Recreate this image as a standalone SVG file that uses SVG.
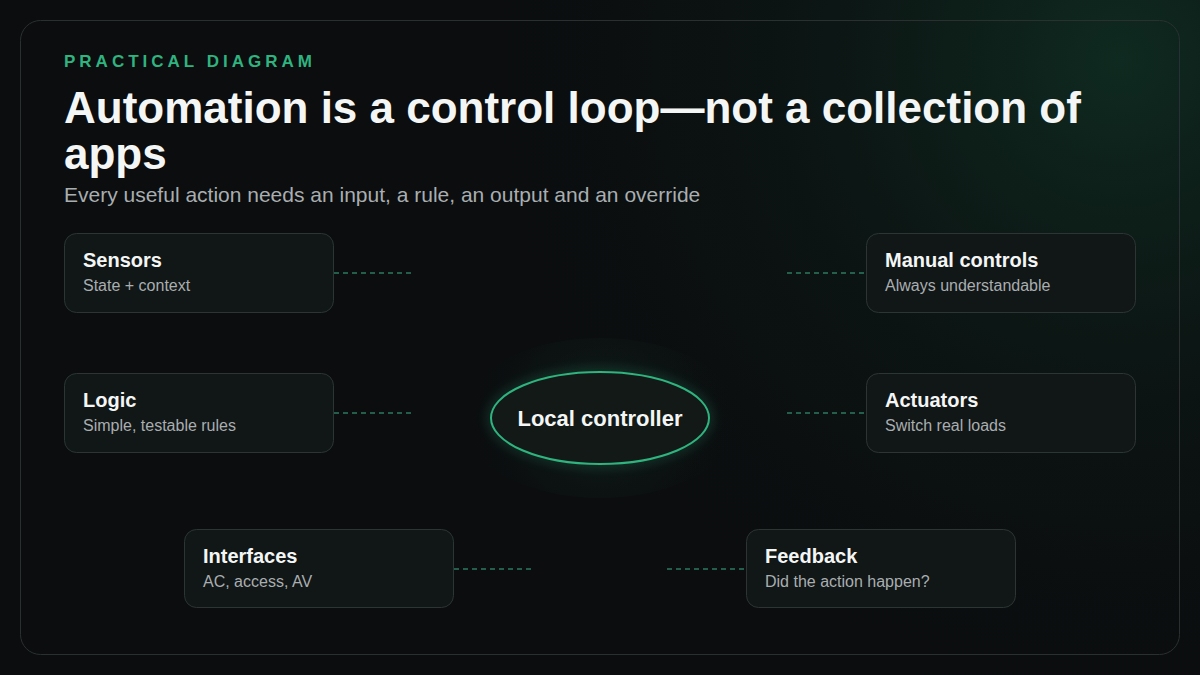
<svg xmlns="http://www.w3.org/2000/svg" width="1200" height="675" viewBox="0 0 1200 675">
<defs>
<radialGradient id="bgGlow" cx="1120" cy="60" r="700" gradientUnits="userSpaceOnUse">
<stop offset="0" stop-color="#0f2a20" stop-opacity="1"/>
<stop offset="0.5" stop-color="#0c1815" stop-opacity="0.6"/>
<stop offset="1" stop-color="#0b0d0f" stop-opacity="0"/>
</radialGradient>
<radialGradient id="ctrGlow" cx="600" cy="418" r="140" gradientUnits="userSpaceOnUse">
<stop offset="0" stop-color="#163a2c" stop-opacity="0.4"/>
<stop offset="0.6" stop-color="#10211b" stop-opacity="0.2"/>
<stop offset="1" stop-color="#0b0d0f" stop-opacity="0"/>
</radialGradient>
<filter id="glow" x="-50%" y="-50%" width="200%" height="200%">
<feGaussianBlur stdDeviation="6"/>
</filter>
<style>
.node rect{fill:#111617;stroke:#2c3534;stroke-width:1}
.nt{font-family:"Liberation Sans",Arial,sans-serif;font-weight:700;font-size:20px;fill:#f4f6f5}
.ns{font-family:"Liberation Sans",Arial,sans-serif;font-size:16px;fill:#a9aeb0}
.conn line{stroke:#2c7a5f;stroke-width:1.5;stroke-dasharray:5 4}
</style>
</defs>
<rect width="1200" height="675" fill="#0b0d0f"/>
<rect width="1200" height="675" fill="url(#bgGlow)"/>
<rect x="20.5" y="20.5" width="1159" height="634" rx="20" fill="none" stroke="#2a3030" stroke-width="1"/>
<text x="64" y="67" font-family="Liberation Sans,Arial,sans-serif" font-weight="700" font-size="17" letter-spacing="4" fill="#2fb37f">PRACTICAL DIAGRAM</text>
<text font-family="Liberation Sans,Arial,sans-serif" font-weight="700" font-size="44" fill="#f4f6f5"><tspan x="64" y="123">Automation is a control loop—not a collection of</tspan><tspan x="64" y="169">apps</tspan></text>
<text x="64" y="202" font-family="Liberation Sans,Arial,sans-serif" font-size="21" fill="#a9aeb0">Every useful action needs an input, a rule, an output and an override</text>
<g class="conn" id="connectors">
<line x1="334" y1="273" x2="413" y2="273"/>
<line x1="787" y1="273" x2="866" y2="273"/>
<line x1="334" y1="413" x2="413" y2="413"/>
<line x1="787" y1="413" x2="866" y2="413"/>
<line x1="454" y1="569" x2="533" y2="569"/>
<line x1="667" y1="569" x2="746" y2="569"/>
</g>
<g id="controller">
<ellipse cx="600" cy="418" rx="140" ry="80" fill="url(#ctrGlow)"/>
<ellipse cx="600" cy="418" rx="109" ry="46" fill="none" stroke="#2fb37f" stroke-width="4" opacity="0.45" filter="url(#glow)"/>
<ellipse cx="600" cy="418" rx="109" ry="46" fill="#121917" stroke="#2fb37f" stroke-width="2"/>
<text x="600" y="426" text-anchor="middle" font-family="Liberation Sans,Arial,sans-serif" font-weight="700" font-size="22" fill="#f4f6f5">Local controller</text>
</g>
<g class="node" id="sensors"><rect x="64.5" y="233.5" width="269" height="79" rx="12"/><text class="nt" x="83" y="267">Sensors</text><text class="ns" x="83" y="291">State + context</text></g>
<g class="node" id="logic"><rect x="64.5" y="373.5" width="269" height="79" rx="12"/><text class="nt" x="83" y="407">Logic</text><text class="ns" x="83" y="431">Simple, testable rules</text></g>
<g class="node" id="manual"><rect x="866.5" y="233.5" width="269" height="79" rx="12"/><text class="nt" x="885" y="267">Manual controls</text><text class="ns" x="885" y="291">Always understandable</text></g>
<g class="node" id="actuators"><rect x="866.5" y="373.5" width="269" height="79" rx="12"/><text class="nt" x="885" y="407">Actuators</text><text class="ns" x="885" y="431">Switch real loads</text></g>
<g class="node" id="interfaces"><rect x="184.5" y="529.5" width="269" height="78" rx="12"/><text class="nt" x="203" y="563">Interfaces</text><text class="ns" x="203" y="587">AC, access, AV</text></g>
<g class="node" id="feedback"><rect x="746.5" y="529.5" width="269" height="78" rx="12"/><text class="nt" x="765" y="563">Feedback</text><text class="ns" x="765" y="587">Did the action happen?</text></g>
</svg>
